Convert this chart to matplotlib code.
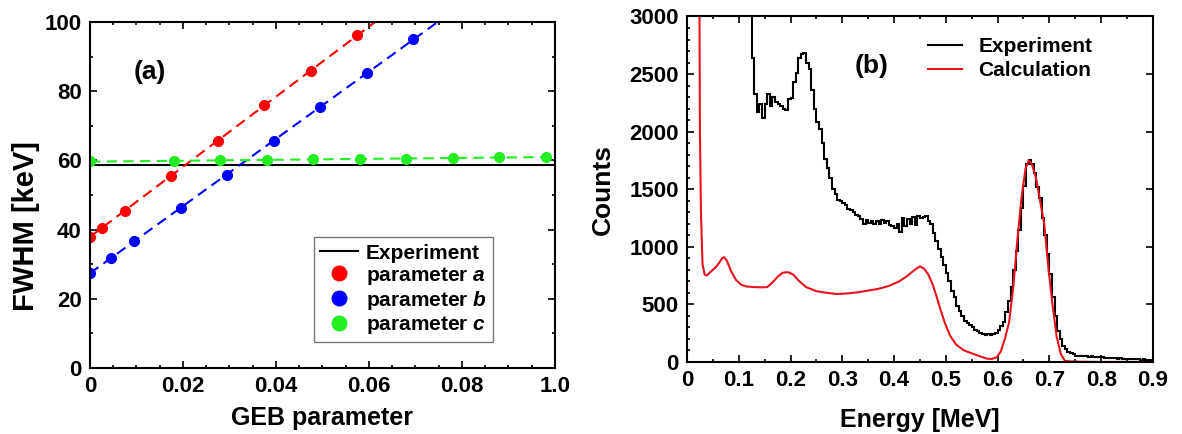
import numpy as np
import matplotlib
matplotlib.use("Agg")
import matplotlib.pyplot as plt
from matplotlib.ticker import MultipleLocator

plt.rcParams['font.family'] = ['Liberation Sans', 'DejaVu Sans']
plt.rcParams['font.weight'] = 'bold'
plt.rcParams['mathtext.fontset'] = 'custom'
plt.rcParams['mathtext.it'] = 'Liberation Sans:bold:italic'
plt.rcParams['mathtext.rm'] = 'Liberation Sans:bold'

# ---- panel (a): FWHM vs GEB parameter ----
a_x = [0, 0.0025, 0.0075, 0.0175, 0.0275, 0.0375, 0.0475, 0.0575]
a_y = [38.0, 40.5, 45.5, 55.5, 65.7, 76.0, 86.0, 96.2]
b_x = [0, 0.0045, 0.0095, 0.0195, 0.0295, 0.0395, 0.0495, 0.0595, 0.0695]
b_y = [27.5, 31.8, 36.6, 46.3, 55.9, 65.7, 75.5, 85.2, 95.0]
c_x = [0, 0.018, 0.028, 0.038, 0.048, 0.058, 0.068, 0.078, 0.088, 0.098]
c_y = [59.8, 59.9, 60.0, 60.1, 60.3, 60.4, 60.5, 60.7, 60.9, 61.1]
fwhm_exp = 58.7
a_ticks = [0, 0.02, 0.04, 0.06, 0.08, 0.1]
a_ticklabels = ["0", "0.02", "0.04", "0.06", "0.08", "1.0"]

# ---- panel (b): spectra ----
exp_start = 0.120
exp_bin = 0.005
exp_counts = [
    3200, 2640, 2330, 2170, 2240, 2120, 2240, 2330, 2220, 2300,   # 0.120
    2260, 2240, 2220, 2200, 2190, 2280, 2290, 2430, 2510, 2640,   # 0.170
    2670, 2680, 2600, 2540, 2360, 2200, 2080, 2020, 1900, 1760,   # 0.220
    1680, 1600, 1500, 1460, 1410, 1400, 1380, 1360, 1330, 1320,   # 0.270
    1300, 1280, 1270, 1240, 1200, 1230, 1210, 1220, 1200, 1220,   # 0.320
    1200, 1230, 1210, 1220, 1190, 1180, 1160, 1200, 1130, 1250,   # 0.370
    1180, 1240, 1200, 1260, 1190, 1270, 1250, 1260, 1270, 1220,   # 0.420
    1200, 1120, 1050, 980, 910, 840, 770, 700, 620, 560,          # 0.470
    490, 440, 400, 360, 340, 320, 300, 280, 265, 255,             # 0.520
    245, 235, 240, 235, 245, 250, 280, 310, 350, 430,             # 0.570
    530, 650, 800, 960, 1150, 1340, 1530, 1720, 1750, 1720,       # 0.620
    1640, 1520, 1420, 1250, 1100, 940, 760, 560, 400, 270,        # 0.670
    200, 140, 110, 90, 75, 65, 55, 55, 50, 48,                    # 0.720
    52, 45, 50, 45, 42, 40, 40, 38, 36, 38,                       # 0.770
    35, 33, 30, 32, 28, 30, 26, 25, 25, 22,                       # 0.820
    22, 20, 22, 20, 18, 18,                                       # 0.870
]
calc_energy = [0.024, 0.025, 0.027, 0.030, 0.034, 0.038, 0.045, 0.055, 0.062, 0.068,
               0.072, 0.077, 0.085, 0.095, 0.105, 0.115, 0.130, 0.145, 0.155, 0.165,
               0.175, 0.185, 0.195, 0.205, 0.215, 0.230, 0.250, 0.270, 0.290, 0.310,
               0.330, 0.350, 0.370, 0.390, 0.410, 0.425, 0.440, 0.450, 0.458, 0.466,
               0.474, 0.482, 0.490, 0.498, 0.508, 0.520, 0.535, 0.550, 0.565, 0.578,
               0.588, 0.598, 0.606, 0.614, 0.622, 0.630, 0.638, 0.646, 0.654, 0.660,
               0.666, 0.674, 0.682, 0.690, 0.698, 0.706, 0.714, 0.722, 0.730, 0.740,
               0.760, 0.800, 0.900]
calc_counts = [3200, 2000, 1300, 850, 760, 750, 780, 820, 860, 900,
               910, 880, 790, 710, 670, 655, 650, 648, 650, 690,
               740, 775, 780, 760, 710, 650, 615, 600, 590, 595,
               605, 620, 635, 660, 700, 745, 800, 830, 810, 760,
               680, 570, 450, 340, 230, 150, 100, 75, 50, 30,
               25, 40, 90, 200, 340, 640, 1050, 1420, 1680, 1750,
               1720, 1600, 1400, 1200, 820, 500, 220, 70, 10, 5,
               2, 0, 0]

fig = plt.figure(figsize=(11.82, 4.34), dpi=100)
ax1 = fig.add_axes([0.0761, 0.152, 0.3934, 0.797])
ax2 = fig.add_axes([0.5812, 0.166, 0.3942, 0.796])

dash = (0, (5, 3))
for xs, ys, col, lab in [(a_x, a_y, 'red', 'parameter $a$'),
                         (b_x, b_y, 'blue', 'parameter $b$'),
                         (c_x, c_y, '#22ee22', 'parameter $c$')]:
    k, m = np.polyfit(xs, ys, 1)
    xl = np.array([0, 0.1])
    ax1.plot(xl, k * xl + m, color=col, lw=1.5, linestyle=dash)
    ax1.plot(xs, ys, 'o', color=col, ms=7, label=lab)
ax1.axhline(fwhm_exp, color='black', lw=1.5, label='Experiment', zorder=1)

ax1.set_xlim(0, 0.1)
ax1.set_ylim(0, 100)
ax1.set_xticks(a_ticks)
ax1.set_xticklabels(a_ticklabels)
ax1.xaxis.set_minor_locator(MultipleLocator(0.005))
ax1.yaxis.set_major_locator(MultipleLocator(20))
ax1.yaxis.set_minor_locator(MultipleLocator(10))
ax1.set_xlabel('GEB parameter', fontsize=18, fontweight='bold', labelpad=6)
ax1.set_ylabel('FWHM [keV]', fontsize=21, fontweight='bold')
ax1.yaxis.set_label_coords(-0.108, 0.41)
ax1.text(0.093, 0.835, '(a)', transform=ax1.transAxes, fontsize=19, fontweight='bold')

h, l = ax1.get_legend_handles_labels()
order = [3, 0, 1, 2]
leg1 = ax1.legend([h[i] for i in order], [l[i] for i in order], loc='lower right',
                  bbox_to_anchor=(0.867, 0.075), borderaxespad=0, fontsize=15,
                  markerscale=1.5, handlelength=1.8, handletextpad=0.4,
                  labelspacing=0.1, borderpad=0.3, fancybox=False,
                  edgecolor='#777777', framealpha=1)
leg1.get_frame().set_linewidth(1.0)

# panel (b)
edges = exp_start + exp_bin * np.arange(len(exp_counts) + 1)
ax2.stairs(exp_counts, edges, baseline=None, color='black', lw=1.5, label='Experiment')
ax2.plot(calc_energy, calc_counts, color='#e8141c', lw=1.5, label='Calculation')
ax2.set_xlim(0, 0.9)
ax2.set_ylim(0, 3000)
ax2.xaxis.set_minor_locator(MultipleLocator(0.05))
ax2.yaxis.set_major_locator(MultipleLocator(500))
ax2.yaxis.set_minor_locator(MultipleLocator(100))
ax2.set_xticks(np.arange(0, 0.91, 0.1))
ax2.set_xticklabels(['0'] + [f'{v:.1f}' for v in np.arange(0.1, 0.91, 0.1)])
ax2.set_xlabel('Energy [MeV]', fontsize=18, fontweight='bold', labelpad=12)
ax2.set_ylabel('Counts', fontsize=19, fontweight='bold', labelpad=10)
ax2.text(0.36, 0.835, '(b)', transform=ax2.transAxes, fontsize=19, fontweight='bold')
ax2.legend(loc='upper left', bbox_to_anchor=(0.5, 0.965), borderaxespad=0, fontsize=15,
           frameon=False, handlelength=1.6, handletextpad=0.8, labelspacing=0.25)

for ax in (ax1, ax2):
    for s in ax.spines.values():
        s.set_linewidth(1.5)
    ax.tick_params(which='both', direction='in', top=True, right=True, labelsize=16, width=1.2)
    ax.tick_params(which='major', length=5, pad=6)
    ax.tick_params(which='minor', length=2.5)
    for t in ax.get_xticklabels() + ax.get_yticklabels():
        t.set_fontweight('bold')
ax2.tick_params(which='minor', right=False)

fig.savefig('out.png', dpi=100)
